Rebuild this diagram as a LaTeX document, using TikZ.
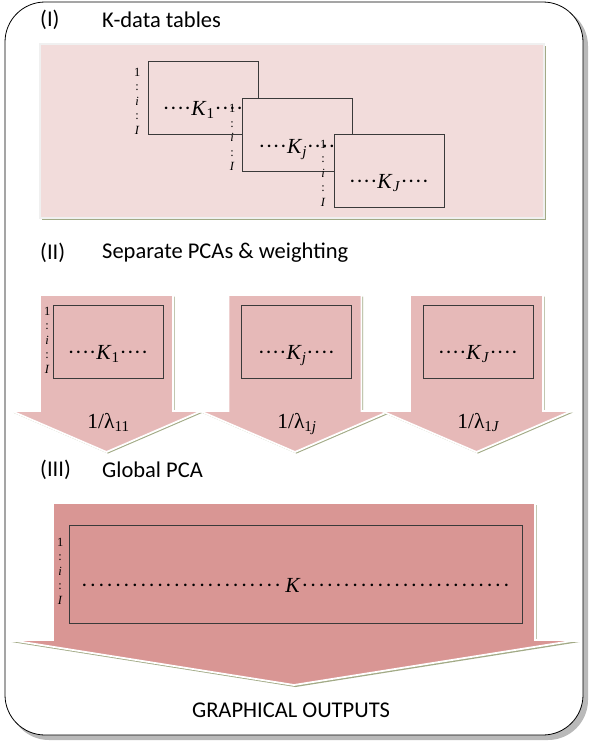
\documentclass[tikz,border=0pt]{standalone}
\usepackage{fontspec}
\setmainfont{Carlito}
\newfontfamily\tnr{Liberation Serif}
\usepackage{tikz}
\usetikzlibrary{positioning}

\definecolor{pinkA}{HTML}{F2DCDB}
\definecolor{pinkB}{HTML}{E6B9B8}
\definecolor{pinkC}{HTML}{D99694}
\definecolor{edgegreen}{HTML}{A2AA86}
\definecolor{tblline}{HTML}{3A3A3A}

% a run of centred dots, #1 wide
\newcommand{\dotrun}[1]{\hbox to #1{\leaders\hbox to 8.4pt{\hss\textperiodcentered\hss}\hfill}}
% the row marks 1 : i : I
\newcommand{\rowmarks}{1\\:\\\textit{i}\\:\\\textit{I}}

\begin{document}
\begin{tikzpicture}[x=1pt, y=-1pt,
    title/.style={font=\fontsize{22.5}{26}\selectfont, inner sep=0pt},
    tbl/.style={draw=tblline, line width=0.9pt, minimum width=110pt, minimum height=73pt, inner sep=0pt},
    ktext/.style={font=\tnr\fontsize{21.5}{25}\selectfont, inner sep=0pt},
    rowlbl/.style={font=\tnr\fontsize{12.5}{14.5}\selectfont, align=center, inner sep=0pt}]
  \useasboundingbox (0,0) rectangle (589,742);

  % outer frame
  \fill[gray!55, rounded corners=40pt] (9,6) rectangle (588,740);
  \draw[black, line width=0.8pt, fill=white, rounded corners=40pt] (5,2) rectangle (583,735);

  % (I) K-data tables
  \node[title, anchor=west] (num1) at (40,20) {(I)};
  \node[title, anchor=west] (head1) at (102,20) {K-data tables};
  \fill[edgegreen] (42,46) rectangle (546,220);
  \draw[pinkA, fill=pinkA, line width=2pt, draw=gray!12] (40,44) rectangle (544,218);

  \node[tbl] (k1) at (203,97.5) {};
  \node[rowlbl, anchor=north east] at ([xshift=-7pt, yshift=-7pt]k1.north west) {\rowmarks};
  \node[ktext, anchor=base] at ([yshift=-55pt]k1.north) {····\textit{K}\textsubscript{1}····};

  \node[tbl, fill=pinkA] (kj) at (297,135) {};
  \node[rowlbl, anchor=north east] at ([xshift=-6pt, yshift=-6pt]kj.north west) {\rowmarks};
  \node[ktext, anchor=base] at ([yshift=-55pt]kj.north) {····\textit{K}\textsubscript{\textit{j}}····};

  \node[tbl, fill=pinkA] (kJ) at (389,170.5) {};
  \node[rowlbl, anchor=north east] at ([xshift=-7pt, yshift=-6pt]kJ.north west) {\rowmarks};
  \node[ktext, anchor=base] at ([yshift=-55pt]kJ.north) {····\textit{K}\textsubscript{\textit{J}}····};

  % (II) separate PCAs & weighting
  \node[title, anchor=west] (num2) at (40,253) {(II)};
  \node[title, anchor=west] (head2) at (102,253) {Separate PCAs \& weighting};
  \foreach \cx/\nm/\ks/\ls in {106.5/a/1/11, 295/b/\textit{j}/1\textit{j}, 476.5/c/\textit{J}/1\textit{J}} {
    \fill[edgegreen, shift={(1.5,1.5)}] (\cx-66.5,295) -- (\cx+66.5,295) -- (\cx+66.5,411) -- (\cx+95,411)
      -- (\cx,452) -- (\cx-95,411) -- (\cx-66.5,411) -- cycle;
    \draw[white, line width=1.8pt, fill=pinkB] (\cx-66.5,295) -- (\cx+66.5,295) -- (\cx+66.5,411) -- (\cx+95,411)
      -- (\cx,452) -- (\cx-95,411) -- (\cx-66.5,411) -- cycle;
    \node[tbl] (box\nm) at (\cx+1.5,341.5) {};
    \node[ktext, anchor=base] at ([yshift=-55pt]box\nm.north) {····\textit{K}\textsubscript{\ks}····};
    \node[ktext, anchor=base] (w\nm) at (\cx+2,428) {1/λ\textsubscript{\ls}};
  }
  \node[rowlbl, anchor=north east] at ([xshift=-2pt, yshift=-2pt]boxa.north west) {\rowmarks};

  % (III) global PCA
  \node[title, anchor=west] (num3) at (40,470) {(III)};
  \node[title, anchor=west] (head3) at (102,470) {Global PCA};
  \fill[edgegreen, shift={(1.5,2)}] (53,503) -- (535,503) -- (535,640) -- (578,640) -- (294,685)
    -- (10,640) -- (53,640) -- cycle;
  \draw[white, line width=1.8pt, fill=pinkC] (53,503) -- (535,503) -- (535,640) -- (578,640) -- (294,685)
    -- (10,640) -- (53,640) -- cycle;
  \node[tbl, minimum width=453pt, minimum height=98pt] (kall) at (295.5,574) {};
  \node[rowlbl, anchor=north east] at ([xshift=-5pt, yshift=-13pt]kall.north west) {\rowmarks};
  \node[ktext, anchor=base] (kbig) at ([yshift=-68pt]kall.north) {\dotrun{205pt}\textit{K}\dotrun{210pt}};

  \node[title] (outputs) at (291,710) {GRAPHICAL OUTPUTS};
\end{tikzpicture}
\end{document}
